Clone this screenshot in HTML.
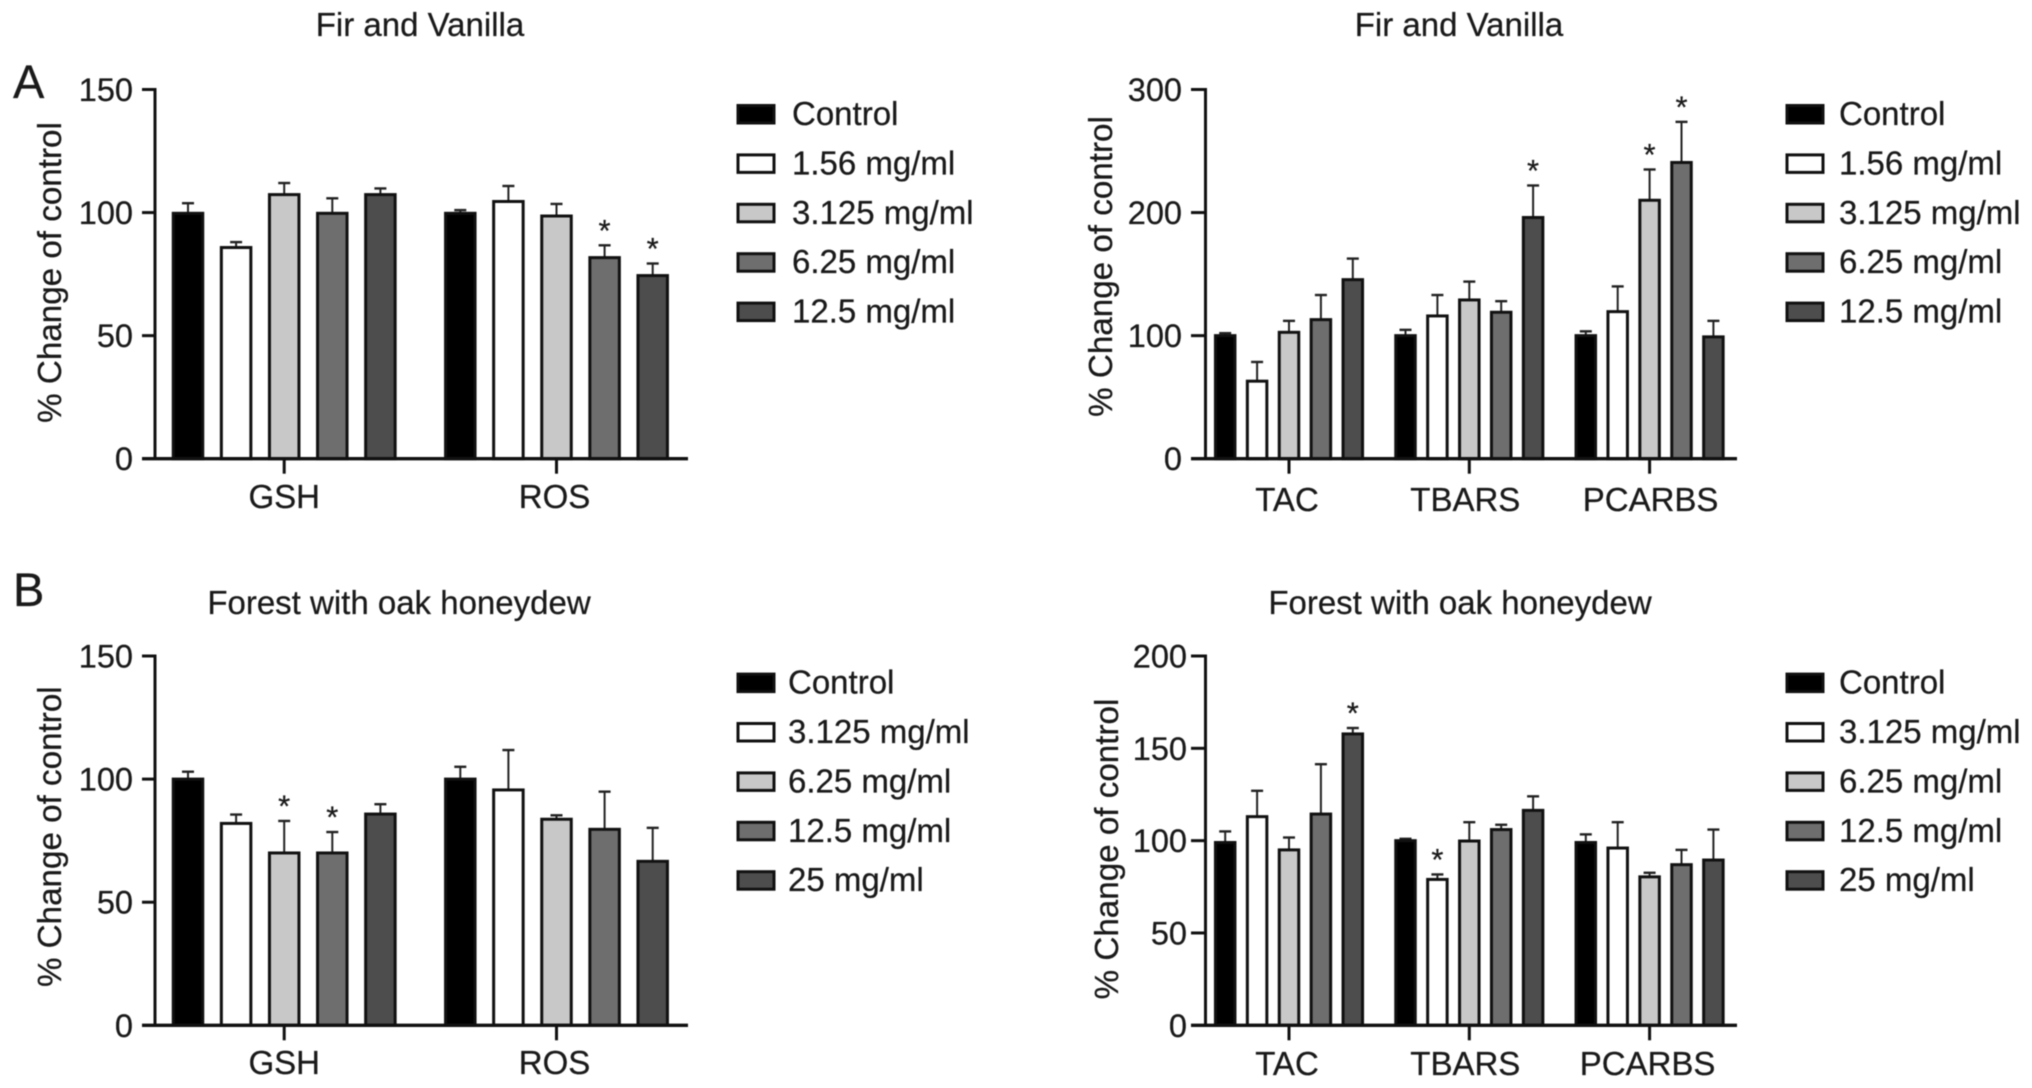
<!DOCTYPE html>
<html lang="en">
<head>
<meta charset="utf-8">
<title>Fir and Vanilla and Forest with oak honeydew honey bar charts</title>
<style>
  html, body { margin: 0; padding: 0; background: #fff; width: 2032px; height: 1088px; overflow: hidden; }
  svg { display: block; filter: blur(0.45px); }
  text { font-family: "Liberation Sans", Arial, sans-serif; fill: #1a1a1a; stroke: #1a1a1a; stroke-width: 0.25px; }
</style>
</head>
<body>
<svg id="figure" xmlns="http://www.w3.org/2000/svg" width="2032" height="1088" viewBox="0 0 2032 1088">
  <rect width="2032" height="1088" fill="#fff"/>
  <text x="13" y="98" font-size="47">A</text>
  <text x="13" y="606" font-size="47">B</text>
</svg>
<script>
// ---------- Chart data ----------
const fillColors = ['#000000', '#ffffff', '#c8c8c8', '#6e6e6e', '#4d4d4d'];

// Panel A, left
const firAntiCategories = ['GSH', 'ROS'];
const firAntiTicks = [0, 50, 100, 150];
const firAntiLegend = ['Control', '1.56 mg/ml', '3.125 mg/ml', '6.25 mg/ml', '12.5 mg/ml'];
const firAntiMeans = [
  [99.7, 85.8, 107.3, 99.7, 107.3],
  [99.7, 104.5, 98.6, 81.7, 74.4]
];
const firAntiErrorTops = [
  [103.8, 88, 112, 105.8, 109.8],
  [101, 110.8, 103.5, 86.7, 79.3]
];
const firAntiStars = [
  [0, 0, 0, 0, 0],
  [0, 0, 0, 1, 1]
];

// Panel A, right
const firMarkerCategories = ['TAC', 'TBARS', 'PCARBS'];
const firMarkerTicks = [0, 100, 200, 300];
const firMarkerLegend = ['Control', '1.56 mg/ml', '3.125 mg/ml', '6.25 mg/ml', '12.5 mg/ml'];
const firMarkerMeans = [
  [100, 63, 102.7, 113, 145.5],
  [100, 116, 129, 119, 196],
  [100, 119.5, 210, 240.7, 99]
];
const firMarkerErrorTops = [
  [102, 78.6, 112, 133, 162.6],
  [104.7, 133, 143.9, 128, 222],
  [103.5, 140, 235, 273.7, 112]
];
const firMarkerStars = [
  [0, 0, 0, 0, 0],
  [0, 0, 0, 0, 1],
  [0, 0, 1, 1, 0]
];

// Panel B, left
const forestAntiCategories = ['GSH', 'ROS'];
const forestAntiTicks = [0, 50, 100, 150];
const forestAntiLegend = ['Control', '3.125 mg/ml', '6.25 mg/ml', '12.5 mg/ml', '25 mg/ml'];
const forestAntiMeans = [
  [100, 82, 70, 70, 85.8],
  [100, 95.6, 83.7, 79.6, 66.6]
];
const forestAntiErrorTops = [
  [103, 85.6, 83, 78.5, 89.8],
  [105, 111.8, 85.3, 94.9, 80.2]
];
const forestAntiStars = [
  [0, 0, 1, 1, 0],
  [0, 0, 0, 0, 0]
];

// Panel B, right
const forestMarkerCategories = ['TAC', 'TBARS', 'PCARBS'];
const forestMarkerTicks = [0, 50, 100, 150, 200];
const forestMarkerLegend = ['Control', '3.125 mg/ml', '6.25 mg/ml', '12.5 mg/ml', '25 mg/ml'];
const forestMarkerMeans = [
  [99, 113, 95, 114.4, 157.8],
  [100, 79, 99.8, 106, 116.4],
  [99, 96, 80.4, 87, 89.5]
];
const forestMarkerErrorTops = [
  [105, 127, 101.7, 141.4, 161],
  [101, 81.7, 110, 108.6, 124],
  [103.4, 110, 82.6, 95, 106]
];
const forestMarkerStars = [
  [0, 0, 0, 0, 1],
  [0, 1, 0, 0, 0],
  [0, 0, 0, 0, 0]
];

// ---------- Panel layout ----------
const leftBand = { axisX: 155, axisStart: 142, axisEnd: 688, firstBar: 188, barStep: 48.1, groupStep: 272.3, barW: 29.5, tickRight: 133, legendSwatch: 738 };
const rightBand = { axisX: 1205.5, axisStart: 1191, axisEnd: 1737, firstBar: 1225.2, barStep: 31.9, groupStep: 180.3, barW: 19.5, tickRight: 1182, legendSwatch: 1787 };

const panelFirAnti = {
  name: 'fir-gsh-ros', band: leftBand, title: 'Fir and Vanilla', titleX: 420, titleY: 36,
  top: 89.5, zero: 458.7, catY: 508, catNudge: [0, -2], yTitleX: 61, yTitleY: 272.5, legendY: 114, legendStep: 49.4, legendTextX: 792,
  categories: firAntiCategories, ticks: firAntiTicks, legend: firAntiLegend,
  means: firAntiMeans, errorTops: firAntiErrorTops, stars: firAntiStars
};
const panelFirMarker = {
  name: 'fir-tac-tbars-pcarbs', band: rightBand, title: 'Fir and Vanilla', titleX: 1459, titleY: 36,
  top: 89.5, zero: 458.7, catY: 511, catNudge: [-2, -4, 1], yTitleX: 1112, yTitleY: 266.5, legendY: 114, legendStep: 49.4, legendTextX: 1839,
  categories: firMarkerCategories, ticks: firMarkerTicks, legend: firMarkerLegend,
  means: firMarkerMeans, errorTops: firMarkerErrorTops, stars: firMarkerStars
};
const panelForestAnti = {
  name: 'forest-gsh-ros', band: leftBand, title: 'Forest with oak honeydew', titleX: 399, titleY: 614,
  top: 656, zero: 1025.3, catY: 1074, catNudge: [0, -2], yTitleX: 61, yTitleY: 836.7, legendY: 682.6, legendStep: 49.4, legendTextX: 788,
  categories: forestAntiCategories, ticks: forestAntiTicks, legend: forestAntiLegend,
  means: forestAntiMeans, errorTops: forestAntiErrorTops, stars: forestAntiStars
};
const panelForestMarker = {
  name: 'forest-tac-tbars-pcarbs', band: Object.assign({}, rightBand, { tickRight: 1187 }), title: 'Forest with oak honeydew', titleX: 1460, titleY: 614,
  top: 656, zero: 1025.3, catY: 1075, catNudge: [-2, -4, -2], yTitleX: 1118, yTitleY: 849, legendY: 682.6, legendStep: 49.4, legendTextX: 1839,
  categories: forestMarkerCategories, ticks: forestMarkerTicks, legend: forestMarkerLegend,
  means: forestMarkerMeans, errorTops: forestMarkerErrorTops, stars: forestMarkerStars
};

// ---------- Drawing ----------
const SVG_NS = 'http://www.w3.org/2000/svg';
const figure = document.getElementById('figure');

function make(parent, tag, attrs, content) {
  const node = document.createElementNS(SVG_NS, tag);
  for (const key in attrs) node.setAttribute(key, attrs[key]);
  if (content !== undefined) node.textContent = content;
  parent.appendChild(node);
  return node;
}

function drawPanel(p) {
  const b = p.band;
  const yMax = p.ticks[p.ticks.length - 1];
  const yScale = function (v) { return p.zero - (v / yMax) * (p.zero - p.top); };
  const barCenter = function (g, s) { return b.firstBar + g * b.groupStep + s * b.barStep; };
  const groupCenter = function (g) { return barCenter(g, 2); };

  const panel = make(figure, 'g', {});
  
  

  const title = make(panel, 'text', { x: p.titleX, y: p.titleY, 'font-size': 33, 'text-anchor': 'middle' }, p.title);
  
  

  const yTitle = make(panel, 'text', { x: 0, y: 0, 'font-size': 33.2, 'text-anchor': 'middle', transform: 'translate(' + p.yTitleX + ' ' + p.yTitleY + ') rotate(-90)' }, '% Change of control');
  
  

  // Bars and error bars first, so axes sit on top
  p.means.forEach(function (group, g) {
    group.forEach(function (value, s) {
      const cx = barCenter(g, s);
      const errY = yScale(p.errorTops[g][s]);
      const topY = yScale(value);

      const errLine = make(panel, 'line', { x1: cx, x2: cx, y1: topY, y2: errY, stroke: '#222', 'stroke-width': 2 });
      
      

      const errCap = make(panel, 'line', { x1: cx - 6, x2: cx + 6, y1: errY, y2: errY, stroke: '#222', 'stroke-width': 2.4 });
      
      

      const bar = make(panel, 'rect', { x: cx - b.barW / 2, y: topY, width: b.barW, height: p.zero - topY, fill: fillColors[s], stroke: '#111', 'stroke-width': 3 });
      
      

      if (p.stars[g][s]) {
        const star = make(panel, 'text', { x: cx, y: errY - 19.5 + 15, 'font-size': 31, 'text-anchor': 'middle' }, '*');
        
        
      }
    });
  });

  // Y axis
  const yAxis = make(panel, 'line', { x1: b.axisX, x2: b.axisX, y1: yScale(yMax) - 1.5, y2: p.zero, stroke: '#111', 'stroke-width': 3 });
  
  

  p.ticks.forEach(function (t) {
    const y = yScale(t);
    if (t !== 0) {
      const tick = make(panel, 'line', { x1: b.axisStart, x2: b.axisX, y1: y, y2: y, stroke: '#111', 'stroke-width': 3 });
      
      
    }
    const label = make(panel, 'text', { x: b.tickRight, y: y + 11.5, 'font-size': 32.5, 'text-anchor': 'end' }, String(t));
    
    
  });

  // X axis
  const xAxis = make(panel, 'line', { x1: b.axisStart, x2: b.axisEnd, y1: p.zero, y2: p.zero, stroke: '#111', 'stroke-width': 3.4 });
  
  

  p.categories.forEach(function (c, g) {
    const x = groupCenter(g);
    const tick = make(panel, 'line', { x1: x, x2: x, y1: p.zero, y2: p.zero + 15, stroke: '#111', 'stroke-width': 3 });
    
    

    const label = make(panel, 'text', { x: x + p.catNudge[g], y: p.catY, 'font-size': 33, 'text-anchor': 'middle' }, c);
    
    
  });

  // Legend
  p.legend.forEach(function (name, s) {
    const cy = p.legendY + s * p.legendStep;
    const entry = make(panel, 'g', {});
    
    

    const swatch = make(entry, 'rect', { x: b.legendSwatch, y: cy - 8.5, width: 36, height: 17.5, fill: fillColors[s], stroke: '#111', 'stroke-width': 3 });
    
    

    const label = make(entry, 'text', { x: p.legendTextX, y: cy + 11, 'font-size': 33 }, name);
    
    
  });
}

drawPanel(panelFirAnti);
drawPanel(panelFirMarker);
drawPanel(panelForestAnti);
drawPanel(panelForestMarker);
</script>
</body>
</html>
